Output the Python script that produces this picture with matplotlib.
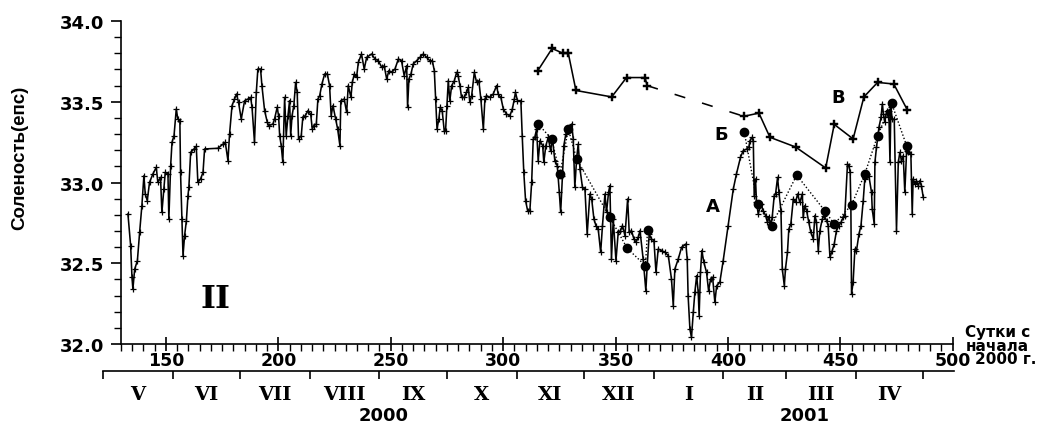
import matplotlib
matplotlib.use("Agg")
import matplotlib.pyplot as plt
import matplotlib.transforms as mtransforms
from matplotlib.ticker import MultipleLocator, FormatStrFormatter

# ---------------- data ----------------
# Series A (daily salinity)
a_day = [133.1, 134.3, 134.9, 135.3, 136.1, 137.3, 138.3, 139.3, 140.2, 140.8, 141.7, 142.7, 144.2,
         145.7, 146.4, 147.6, 148.2, 149.1, 149.7, 150.9, 151.3, 152.1, 152.7, 153.6, 154.6, 155.3,
         156.2, 156.5, 157.1, 157.6, 158.3, 159.1, 159.8, 160.2, 161.0, 162.5, 163.5, 164.2, 165.4,
         166.5, 167.2, 173.1, 175.4, 176.4, 177.6, 178.3, 179.4, 180.5, 181.4, 182.3, 183.5, 185.0,
         186.5, 187.7, 188.3, 189.4, 190.2, 190.9, 192.1, 192.7, 193.9, 195.1, 195.7, 197.6, 198.3,
         199.5, 200.1, 200.6, 201.3, 202.0, 202.8, 203.5, 204.3, 205.0, 205.5, 206.1, 206.9, 207.7,
         208.4, 209.0, 210.2, 210.9, 212.0, 213.2, 214.4, 215.1, 215.8, 216.9, 217.6, 218.4, 219.4,
         220.6, 221.8, 222.8, 223.5, 224.3,
         225.5, 226.4, 227.4, 227.8, 229.3, 230.4, 231.1, 232.3, 232.9, 233.8, 234.8, 235.6, 237.0,
         238.2, 239.3, 241.5, 243.0, 244.5, 246.0, 247.1, 248.2, 249.2, 250.4, 251.9, 253.4, 254.8,
         256.0, 257.1, 257.5, 258.1, 259.0, 260.0, 261.5, 263.0, 264.5, 266.0, 267.4, 268.5, 269.4,
         270.0, 270.6, 271.4, 272.0, 272.9, 273.8, 274.4, 275.0, 275.6, 276.3, 277.1, 278.3, 279.3,
         280.0, 280.8, 281.5, 282.7, 283.7, 284.5, 285.2, 286.0, 287.2, 288.2, 289.2, 290.1, 291.2,
         291.9, 292.6, 294.1, 295.6, 297.1, 297.8, 299.0, 300.1, 301.5, 303.0, 304.1, 305.0, 305.5,
         306.4, 307.9, 308.5, 309.2, 310.0, 310.9, 311.9, 312.7, 313.4, 314.1, 314.9,
         315.6, 316.4, 317.6, 318.1, 319.0, 320.1, 321.1, 322.0, 323.0, 324.1, 325.0, 325.6, 326.4,
         327.0, 327.9, 329.0, 330.5, 331.2, 331.9, 332.7, 333.4, 334.2, 335.3, 336.4, 337.4, 338.6,
         339.4, 340.4, 341.3, 342.3, 343.4, 344.2, 345.3, 346.0, 346.9, 347.5, 348.2, 349.0, 350.2,
         351.2, 352.2, 353.1, 354.2, 355.4, 356.1, 357.1, 358.2, 359.1, 360.1, 360.9, 362.3, 363.5,
         364.1, 365.0, 366.0, 367.1, 368.0, 369.0, 370.5, 372.0, 373.5, 374.9, 375.7, 376.4, 377.9,
         379.4, 381.3, 381.9, 382.3, 383.1, 383.8, 384.6, 385.3, 386.1, 386.8, 387.2, 387.8, 388.4,
         389.3, 390.5, 391.4, 392.3, 393.2, 394.2, 395.0, 396.4, 397.9, 400.1, 402.4, 403.8, 405.6,
         406.8, 408.3, 409.3, 409.8, 410.8, 411.3, 411.7, 412.3, 412.7, 413.5, 414.7, 415.7, 416.8,
         417.6, 418.2, 419.1, 419.7, 420.6, 421.2, 422.1, 422.7, 423.6, 424.2, 425.1, 425.6, 426.5,
         427.1, 428.0, 429.1, 430.1, 431.0, 432.0, 433.1, 433.5, 434.2, 435.0, 436.0, 436.9, 438.0,
         438.7, 439.4, 440.2, 440.9, 442.0, 442.8, 443.9, 444.6, 445.4, 446.4, 447.3, 448.3, 449.4,
         450.3, 451.3, 452.0, 453.2, 453.8, 454.4, 454.7, 455.0, 455.7, 456.5, 457.2, 458.3, 459.2,
         460.2, 460.9, 461.7, 462.7, 463.9, 464.2, 465.1, 465.4, 466.1, 467.2, 468.1, 468.7, 469.2,
         469.8, 470.6, 471.3, 471.6, 472.1, 472.5, 473.1, 474.0, 475.0, 475.8, 476.5, 477.2, 478.0,
         478.7, 479.5, 480.2, 481.4, 482.0, 482.4, 483.2, 483.9, 484.7, 485.4, 486.1, 486.9]
a_sal = [32.805, 32.609, 32.413, 32.341, 32.464, 32.516, 32.692, 32.857, 33.042, 32.929, 32.888, 33.001, 33.053,
         33.094, 33.001, 33.032, 32.815, 32.960, 33.063, 33.053, 32.774, 33.104, 33.249, 33.290, 33.455, 33.393,
         33.383, 33.063, 32.774, 32.547, 32.671, 32.764, 32.919, 32.970, 33.187, 33.208, 33.224, 33.001, 33.022,
         33.063, 33.208, 33.212, 33.238, 33.249, 33.135, 33.300, 33.476, 33.517, 33.548, 33.496, 33.393, 33.507,
         33.517, 33.527, 33.466, 33.249, 33.558, 33.703, 33.703, 33.600, 33.445, 33.373, 33.352, 33.362, 33.393,
         33.466, 33.414, 33.290, 33.228, 33.125, 33.527, 33.290, 33.414, 33.507, 33.290, 33.414, 33.476, 33.620,
         33.558, 33.269, 33.290, 33.404, 33.414, 33.445, 33.424, 33.331, 33.352, 33.362, 33.517, 33.538, 33.610,
         33.672, 33.672, 33.600, 33.414, 33.476,
         33.393, 33.331, 33.228, 33.507, 33.517, 33.434, 33.600, 33.527, 33.620, 33.672, 33.651, 33.744, 33.796,
         33.703, 33.775, 33.796, 33.765, 33.754, 33.713, 33.723, 33.641, 33.693, 33.682, 33.703, 33.765, 33.754,
         33.661, 33.723, 33.465, 33.641, 33.672, 33.734, 33.754, 33.775, 33.796, 33.775, 33.754, 33.754, 33.693,
         33.517, 33.331, 33.393, 33.465, 33.445, 33.321, 33.321, 33.476, 33.630, 33.507, 33.600, 33.630, 33.682,
         33.661, 33.600, 33.527, 33.527, 33.558, 33.589, 33.496, 33.538, 33.682, 33.620, 33.630, 33.517, 33.331,
         33.517, 33.538, 33.527, 33.548, 33.600, 33.548, 33.527, 33.455, 33.424, 33.414, 33.455, 33.517, 33.558,
         33.507, 33.507, 33.290, 33.063, 32.887, 32.826, 32.826, 33.001, 33.269, 33.280, 33.331,
         33.135, 33.259, 33.228, 33.125, 33.228, 33.280, 33.197, 33.269, 33.135, 33.104, 32.939, 32.815, 33.042,
         33.228, 33.300, 33.321, 33.362, 33.269, 32.970, 33.146, 33.238, 33.083, 32.970, 32.960, 32.681, 32.929,
         32.898, 32.774, 32.733, 32.712, 32.568, 32.733, 32.929, 32.815, 32.939, 32.980, 32.526, 32.774, 32.516,
         32.691, 32.702, 32.733, 32.671, 32.898, 32.691, 32.702, 32.650, 32.630, 32.661, 32.702, 32.526, 32.330,
         32.485, 32.681, 32.650, 32.640, 32.444, 32.588, 32.578, 32.568, 32.547, 32.402, 32.237, 32.464, 32.526,
         32.599, 32.619, 32.526, 32.299, 32.093, 32.041, 32.196, 32.320, 32.423, 32.320, 32.176, 32.444, 32.578,
         32.506, 32.444, 32.330, 32.402, 32.413, 32.258, 32.361, 32.382, 32.516, 32.733, 32.960, 33.053, 33.156,
         33.197, 33.207, 33.218, 33.259, 33.280, 33.259, 32.918, 33.022, 32.877, 32.805, 32.867, 32.826, 32.795,
         32.753, 32.784, 32.743, 32.784, 32.918, 32.929, 33.032, 32.939, 32.826, 32.464, 32.361, 32.464, 32.568,
         32.712, 32.743, 32.898, 32.877, 32.929, 32.877, 32.929, 32.784, 32.856, 32.826, 32.753, 32.691, 32.650,
         32.795, 32.753, 32.578, 32.702, 32.774, 32.795, 32.764, 32.733, 32.537, 32.578, 32.619, 32.702, 32.733,
         32.753, 32.784, 32.795, 33.115, 33.104, 33.063, 32.856, 32.310, 32.382, 32.588, 32.578, 32.681, 32.733,
         32.888, 33.022, 33.053, 33.042, 32.939, 32.836, 32.743, 33.125, 33.218, 33.342, 33.403, 33.486, 33.424,
         33.373, 33.445, 33.403, 33.445, 33.125, 33.465, 33.393, 33.393, 32.702, 33.125, 33.187, 33.135, 33.166,
         32.939, 33.197, 33.187, 33.176, 32.805, 33.022, 32.991, 33.011, 32.980, 33.011, 32.980, 32.908]

# Series Б (dotted, filled circles), two segments
b1_day = [315.6, 321.6, 325.3, 329.0, 332.7, 347.5, 355.2, 363.3, 364.3]
b1_sal = [33.362, 33.269, 33.053, 33.331, 33.146, 32.784, 32.593, 32.485, 32.708]
b2_day = [407.3, 413.2, 419.4, 430.6, 443.1, 447.3, 455.0, 460.9, 466.6, 472.8, 479.5]
b2_sal = [33.311, 32.867, 32.733, 33.046, 32.825, 32.743, 32.861, 33.053, 33.290, 33.492, 33.228]

# Series В (solid, crosses); gap bridged by a dashed line
v1_day = [315.3, 321.8, 326.7, 329.0, 332.4, 348.3, 354.9, 363.1, 364.1]
v1_sal = [33.69, 33.83, 33.80, 33.80, 33.57, 33.53, 33.65, 33.65, 33.60]
v2_day = [407.1, 413.8, 418.7, 430.1, 443.5, 447.3, 455.7, 460.5, 466.6, 473.8, 479.8]
v2_sal = [33.41, 33.43, 33.28, 33.22, 33.09, 33.36, 33.27, 33.53, 33.62, 33.61, 33.45]

# Month axis (day of year since start of 2000)
month_bounds = [122, 153, 183, 214, 245, 275, 306, 336, 367, 398, 426, 457, 487, 500.5]
month_names = ["V", "VI", "VII", "VIII", "IX", "X", "XI", "XII", "I", "II", "III", "IV"]
years = ["2000", "2001"]
year_pos = [247, 434]

x_ticks = [150, 200, 250, 300, 350, 400, 450, 500]

# ---------------- figure ----------------
plt.rcParams['font.family'] = ['DejaVu Sans']
fig = plt.figure(figsize=(10.48, 4.27), dpi=100)
L, W = 0.0972, 0.8140
ax = fig.add_axes([L, 0.1920, W, 0.7564])
ax.set_xlim(121.5, 501)
ax.set_ylim(32.0, 34.0)

lw = 1.15
ax.plot(a_day, a_sal, color='black', lw=lw, marker='+', ms=4, mew=0.9, zorder=3)
ax.plot(b1_day, b1_sal, color='black', lw=1.0, ls=(0, (1, 1.5)), marker='o', ms=6, zorder=4)
ax.plot(b2_day, b2_sal, color='black', lw=1.0, ls=(0, (1, 1.5)), marker='o', ms=6, zorder=4)
ax.plot(v1_day, v1_sal, color='black', lw=lw, marker='P', ms=6, mew=0.3, zorder=3)
ax.plot(v2_day, v2_sal, color='black', lw=lw, marker='P', ms=6, mew=0.3, zorder=3)
ax.plot([v1_day[-1], v2_day[0]], [v1_sal[-1], v2_sal[0]], color='black', lw=lw,
        ls=(0, (7, 11)), zorder=3)

for s in ['top', 'right']:
    ax.spines[s].set_visible(False)
ax.spines['left'].set_position(('data', 130))
ax.spines['bottom'].set_bounds(130, 500)
ax.spines['left'].set_linewidth(1.2)
ax.spines['bottom'].set_linewidth(1.2)

ax.xaxis.set_major_locator(plt.FixedLocator(x_ticks))
ax.xaxis.set_minor_locator(plt.FixedLocator([v for v in range(130, 501, 5) if v % 50]))
ax.yaxis.set_major_locator(MultipleLocator(0.5))
ax.yaxis.set_minor_locator(MultipleLocator(0.1))
ax.yaxis.set_major_formatter(FormatStrFormatter('%.1f'))
ax.tick_params(axis='x', which='major', direction='inout', length=9.5, width=1.2, pad=0.5,
               labelsize=12.5)
ax.tick_params(axis='x', which='minor', direction='out', length=5, width=1.0)
ax.tick_params(axis='y', which='major', direction='out', length=7, width=1.2, pad=5,
               labelsize=13)
ax.tick_params(axis='y', which='minor', direction='out', length=5, width=1.0)
for t in ax.get_xticklabels() + ax.get_yticklabels():
    t.set_fontweight('bold')

fig.text(20 / 1048, 1 - 158 / 427, "Соленость(епс)", rotation=90,
         ha='center', va='center', fontsize=13.5, fontweight='bold', family='Liberation Sans')

# series labels
ax.text(393.3, 32.857, "А", ha='center', va='center', fontsize=13, fontweight='bold')
ax.text(397.2, 33.30, "Б", ha='center', va='center', fontsize=13, fontweight='bold')
ax.text(448.9, 33.53, "В", ha='center', va='center', fontsize=13, fontweight='bold')
ax.text(172.2, 32.28, "II", ha='center', va='center', fontsize=23, fontweight='bold',
        family='DejaVu Serif')

# x-axis title
for txt, yp, xp in [("Сутки с", 333, 965), ("начала", 346.5, 966), ("2000 г.", 360, 975)]:
    fig.text(xp / 1048, 1 - yp / 427, txt, ha='left', va='center', fontsize=11, fontweight='bold')

# ---------------- month axis ----------------
ax2 = fig.add_axes([L, 1 - 371.7 / 427, W, 0.0001])
ax2.set_xlim(ax.get_xlim())
ax2.set_ylim(0, 1)
ax2.patch.set_visible(False)
for s in ['top', 'right', 'left']:
    ax2.spines[s].set_visible(False)
ax2.spines['bottom'].set_bounds(month_bounds[0], month_bounds[-1])
ax2.spines['bottom'].set_linewidth(1.2)
ax2.set_yticks([])
ax2.set_xticks(month_bounds[:-1])
ax2.set_xticklabels([])
ax2.tick_params(axis='x', direction='out', length=6, width=1.2)

tr = mtransforms.blended_transform_factory(ax2.transData, fig.transFigure)
for i, name in enumerate(month_names):
    c = 0.5 * (month_bounds[i] + month_bounds[i + 1])
    ax2.text(c, 1 - 395 / 427, name, transform=tr, ha='center', va='center',
             fontsize=14, fontweight='bold', family='DejaVu Serif')
for yname, xp in zip(years, year_pos):
    ax2.text(xp, 1 - 416 / 427, yname, transform=tr, ha='center', va='center',
             fontsize=13, fontweight='bold')

fig.savefig("out.png", dpi=100)
